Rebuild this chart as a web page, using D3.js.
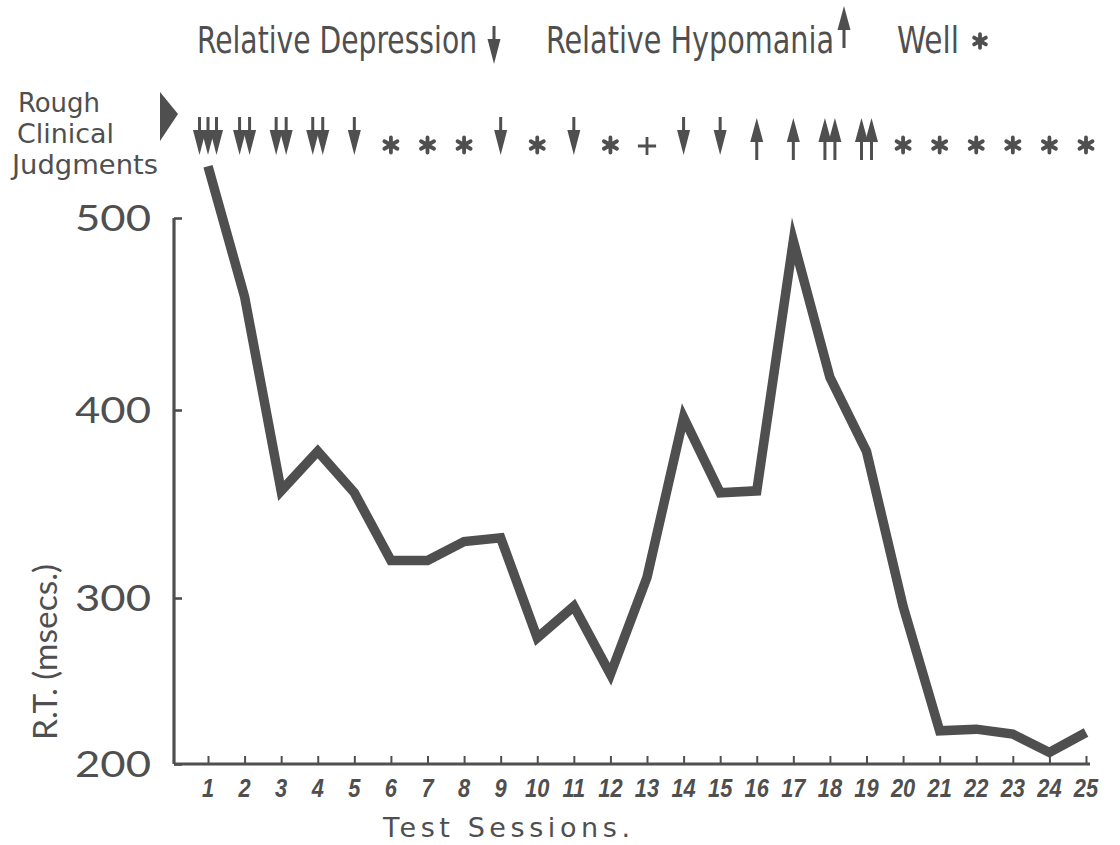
<!DOCTYPE html>
<html>
<head>
<meta charset="utf-8">
<script src="https://cdn.jsdelivr.net/npm/d3@7/dist/d3.min.js"></script>
<style>
  html, body { margin: 0; padding: 0; background: #fff; }
  svg { display: block; }
</style>
</head>
<body>
<svg id="chart" width="1120" height="845"></svg>
<script>
// Test sessions 1..25
const sessions = d3.range(1, 26);

// Reaction time (msecs) for each session
const reactionTimes = [
  527, 459, 357, 378, 356, 320, 320, 330, 332, 276,
  295, 254, 311, 396, 356, 357, 488, 417, 378, 295,
  220, 221, 218, 207, 219
];

// Rough clinical judgment per session:
// "D" relative depression, "H" relative hypomania, "W" well, "+" intermediate
// repeated letters mark a stronger judgment
const judgments = [
  "DDD", "DD", "DD", "DD", "D", "W", "W", "W", "D", "W",
  "D", "W", "+", "D", "D", "H", "H", "HH", "HH", "W",
  "W", "W", "W", "W", "W"
];

const yTicks = [200, 300, 400, 500];
const xTickLabels = sessions.map(String);
const captionLines = ["Rough", "Clinical", "Judgments"];

const ink = "#4f4f4f";
const svg = d3.select("#chart");

// Horizontal scale: one step per session
const x = d3.scaleLinear().domain([1, 25]).range([208, 1086]);
// The value axis is hand-ruled, so each hundred gets its own span
const y = d3.scaleLinear().domain([200, 300, 400, 500]).range([764, 598, 410, 218]);

// ---- axes ----
const yAxis = d3.axisLeft(y).tickValues(yTicks).tickSize(-8).tickFormat("");
const gy = svg.append("g").attr("transform", "translate(174,0)").call(yAxis);
gy.select(".domain").attr("d", `M0,${y(500)}V${y(200)}`)
  .attr("stroke", ink).attr("stroke-width", 3.2).attr("fill", "none");
gy.selectAll(".tick line").attr("stroke", ink).attr("stroke-width", 2.6);

const xAxis = d3.axisBottom(x).tickValues(sessions).tickSize(-8).tickFormat("");
const gx = svg.append("g").attr("transform", `translate(0,${y(200)})`).call(xAxis);
gx.select(".domain").attr("d", `M174,0H1090`)
  .attr("stroke", ink).attr("stroke-width", 3).attr("fill", "none");
gx.selectAll(".tick line").attr("stroke", ink).attr("stroke-width", 2);

// y tick labels
svg.append("g").selectAll("text").data(yTicks).join("text")
  .attr("x", 151).attr("y", d => y(d))
  .attr("dy", "0.36em")
  .attr("text-anchor", "end")
  .attr("font-family", "Lato, 'Open Sans', sans-serif")
  .attr("font-weight", 400)
  .attr("font-size", 36)
  .attr("fill", ink)
  .attr("textLength", 76).attr("lengthAdjust", "spacingAndGlyphs")
  .text(d => d);

// x tick labels: bold italic, slightly narrowed
svg.append("g").selectAll("text").data(sessions).join("text")
  .attr("transform", d => `translate(${x(d)},797) scale(0.84,1)`)
  .attr("text-anchor", "middle")
  .attr("font-family", "'Liberation Sans', Arial, sans-serif")
  .attr("font-weight", "bold").attr("font-style", "italic")
  .attr("font-size", 26)
  .attr("fill", ink)
  .text((d, i) => xTickLabels[i]);

// axis titles
svg.append("text")
  .attr("transform", "translate(57,652) rotate(-90)")
  .attr("text-anchor", "middle")
  .attr("font-family", "Lato, 'Open Sans', sans-serif")
  .attr("font-weight", 400)
  .attr("font-size", 32)
  .attr("fill", ink)
  .attr("textLength", 176).attr("lengthAdjust", "spacingAndGlyphs")
  .text("R.T. (msecs.)");

svg.append("text")
  .attr("x", 383).attr("y", 837)
  .attr("font-family", "'DejaVu Sans', sans-serif")
  .attr("font-size", 27)
  .attr("fill", ink)
  .attr("textLength", 247).attr("lengthAdjust", "spacing")
  .text("Test Sessions.");

// ---- the data line ----
const line = d3.line()
  .x((d, i) => x(sessions[i]))
  .y(d => y(d))
  .curve(d3.curveLinear);

svg.append("path")
  .datum(reactionTimes)
  .attr("d", line)
  .attr("fill", "none")
  .attr("stroke", ink)
  .attr("stroke-width", 9.5)
  .attr("stroke-linejoin", "miter")
  .attr("stroke-miterlimit", 6);

// ---- judgment glyphs ----
const condensed = "'Liberation Sans Narrow', 'DejaVu Sans Condensed', 'Roboto Condensed', sans-serif";

function downArrow(g, cx, top) {
  g.append("rect").attr("x", cx - 1.5).attr("y", top).attr("width", 3).attr("height", 16).attr("fill", ink);
  g.append("path")
    .attr("d", `M${cx - 6.5},${top + 13}L${cx + 6.5},${top + 13}L${cx},${top + 38}Z`)
    .attr("fill", ink);
}
function upArrow(g, cx, top) {
  g.append("path")
    .attr("d", `M${cx - 6.5},${top + 24}L${cx + 6.5},${top + 24}L${cx},${top}Z`)
    .attr("fill", ink);
  g.append("rect").attr("x", cx - 1.5).attr("y", top + 20).attr("width", 3).attr("height", 22).attr("fill", ink);
}
function star(g, cx, cy, size) {
  g.append("path")
    .attr("transform", `translate(${cx},${cy})`)
    .attr("d", d3.symbol(d3.symbolAsterisk, size)())
    .attr("fill", "none").attr("stroke", ink).attr("stroke-width", 3.8)
    .attr("stroke-linecap", "round");
  g.append("circle").attr("cx", cx).attr("cy", cy).attr("r", 3.8).attr("fill", ink);
}
function plus(g, cx, cy) {
  g.append("path")
    .attr("transform", `translate(${cx},${cy})`)
    .attr("d", d3.symbol(d3.symbolPlus, 110)())
    .attr("fill", "none").attr("stroke", ink).attr("stroke-width", 2.8);
}

const glyphs = svg.append("g");
judgments.forEach((code, i) => {
  const cx = x(sessions[i]);
  const n = code.length;
  const spread = n === 3 ? 8.5 : 10;
  const offsets = d3.range(n).map(k => (k - (n - 1) / 2) * spread);
  const kind = code[0];
  if (kind === "D") offsets.forEach(o => downArrow(glyphs, cx + o, 117));
  else if (kind === "H") offsets.forEach(o => upArrow(glyphs, cx + o, 118));
  else if (kind === "W") star(glyphs, cx, 145, 160);
  else plus(glyphs, cx, 146);
});

// pointer and row caption
svg.append("path")
  .attr("d", "M160,92L178,114L160,141Z")
  .attr("fill", ink);

svg.append("g").selectAll("text").data(captionLines).join("text")
  .attr("x", (d, i) => [18, 17, 12][i])
  .attr("y", (d, i) => 112 + i * 31)
  .attr("font-family", condensed)
  .attr("font-size", 26.5)
  .attr("fill", ink)
  .attr("textLength", (d, i) => [82, 97, 146][i]).attr("lengthAdjust", "spacingAndGlyphs")
  .text(d => d);

// ---- key along the top ----
const key = svg.append("g").attr("font-family", condensed).attr("font-size", 38).attr("fill", ink);
key.append("text").attr("x", 197).attr("y", 53)
  .attr("textLength", 280).attr("lengthAdjust", "spacingAndGlyphs").text("Relative Depression");
downArrow(key, 494, 26);
key.append("text").attr("x", 546).attr("y", 53)
  .attr("textLength", 288).attr("lengthAdjust", "spacingAndGlyphs").text("Relative Hypomania");
upArrow(key, 844, 6);
key.append("text").attr("x", 897).attr("y", 53)
  .attr("textLength", 62).attr("lengthAdjust", "spacingAndGlyphs").text("Well");
star(key, 980, 41, 130);
</script>
</body>
</html>
